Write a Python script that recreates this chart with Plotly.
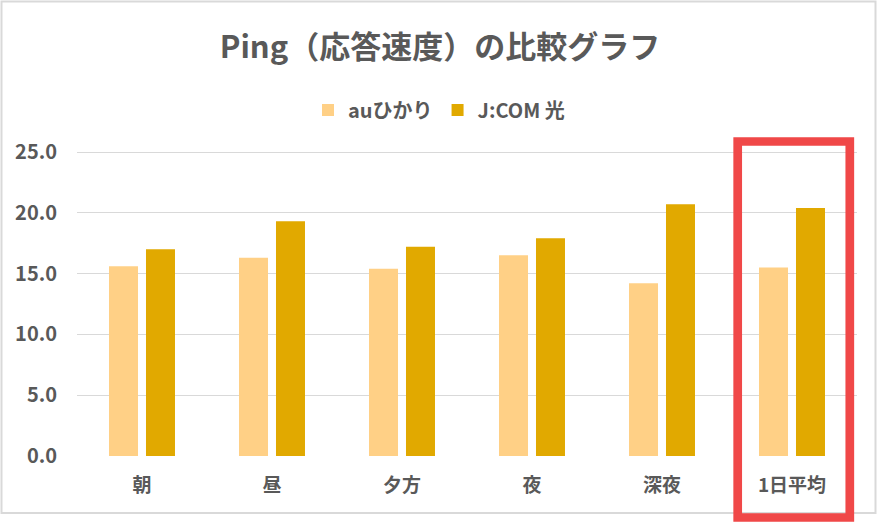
import plotly.graph_objects as go

categories = ["朝", "昼", "夕方", "夜", "深夜", "1日平均"]
au_values = [15.6, 16.3, 15.4, 16.5, 14.2, 15.5]
jcom_values = [17.0, 19.3, 17.2, 17.9, 20.7, 20.4]
series_names = ["auひかり", "J:COM 光"]
y_ticks = [0, 5, 10, 15, 20, 25]

FONT = "Noto Sans CJK JP"
GREY = "#595959"

fig = go.Figure()
fig.add_trace(go.Bar(x=categories, y=au_values, name=series_names[0],
                     marker=dict(color="#FFD086", line=dict(width=0))))
fig.add_trace(go.Bar(x=categories, y=jcom_values, name=series_names[1],
                     marker=dict(color="#E1A900", line=dict(width=0))))

W, H = 880, 523
ml, mr, mt, mb = 77, 23, 146, 67
ph = H - mt - mb
pw = W - ml - mr

def px(x):
    return (x - ml) / pw

def py(y):
    return (H - mb - y) / ph

fig.update_layout(
    width=W, height=H,
    margin=dict(l=ml, r=mr, t=mt, b=mb),
    paper_bgcolor="white", plot_bgcolor="white",
    barmode="group", bargap=0.431, bargroupgap=0.216,
    font=dict(family=FONT, color=GREY),
    title=dict(text="Ping（応答速度）の比較グラフ", x=0.5, xanchor="center",
               y=1 - 47 / H, yanchor="middle",
               font=dict(size=31, color=GREY, family=FONT, weight="bold")),
    legend=dict(orientation="h", x=px(439), xanchor="center", y=py(110), yanchor="middle",
                font=dict(size=20, color=GREY, family=FONT, weight="bold"),
                itemwidth=30, traceorder="normal", bgcolor="rgba(0,0,0,0)"),
    showlegend=True,
)
fig.update_yaxes(range=[0, ph / 12.16], tickvals=y_ticks, tickformat=".1f",
                 showgrid=True, gridcolor="#D9D9D9", gridwidth=1.3,
                 zeroline=False, showline=False,
                 ticks="outside", ticklen=15, tickcolor="rgba(0,0,0,0)",
                 tickfont=dict(size=20, color=GREY, family=FONT, weight="bold"))
fig.update_xaxes(showgrid=False, showline=False, zeroline=False,
                 ticks="outside", ticklen=12, tickcolor="rgba(0,0,0,0)",
                 tickfont=dict(size=19, color=GREY, family=FONT, weight="bold"))

# chart-area border
fig.add_shape(type="rect", xref="paper", yref="paper",
              x0=px(1.5), x1=px(875.5), y0=py(513), y1=py(1.5),
              line=dict(color="#D9D9D9", width=2), fillcolor="rgba(0,0,0,0)", layer="below")
# highlight box
fig.add_shape(type="rect", xref="paper", yref="paper",
              x0=px(737.7), x1=px(849.8), y0=py(517.5), y1=py(141.5),
              line=dict(color="#F04848", width=8.7), fillcolor="rgba(0,0,0,0)", layer="above")

fig.write_html("out.html", config={"displayModeBar": False},
               post_script="document.body.style.margin='0';")
